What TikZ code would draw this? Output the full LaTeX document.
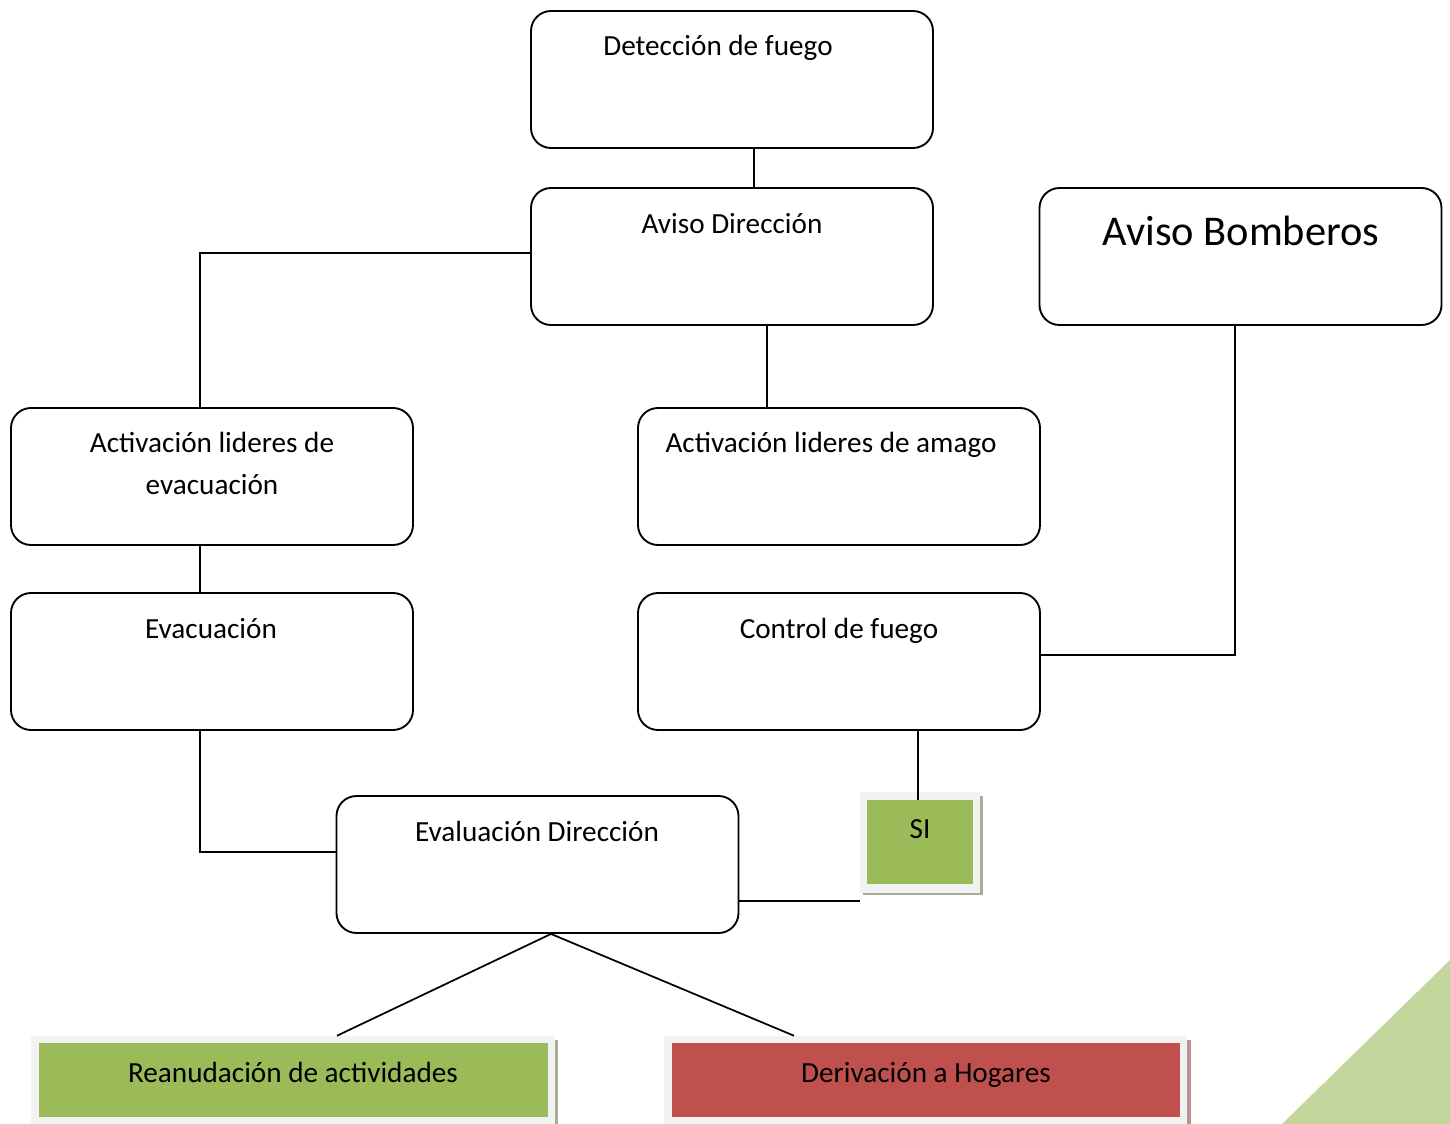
\documentclass[tikz,border=0pt]{standalone}
\usepackage{fontspec}
\setmainfont{Carlito}
\usetikzlibrary{positioning}
\definecolor{verde}{HTML}{9BBB59}
\definecolor{rojo}{HTML}{C0504D}
\definecolor{verdeclaro}{HTML}{C3D69B}
\definecolor{marco}{HTML}{F2F2F2}
\definecolor{sombraverde}{HTML}{A6AE94}
\definecolor{sombraroja}{HTML}{B89494}

\tikzset{
  caja/.style={draw, line width=1.4pt, rounded corners=15pt, minimum width=301.5pt, minimum height=102.75pt},
  txt/.style={anchor=base, font=\fontsize{21.9}{31.5}\selectfont, inner sep=0pt, align=center},
  linea/.style={line width=1.3pt}
}

\begin{document}
\begin{tikzpicture}[x=0.75pt,y=0.75pt,yscale=-1,xscale=1]
    \useasboundingbox (0,0) rectangle (1450,1124);

    %Triangulo de fondo
    \fill[verdeclaro] (1282,1124) -- (1450,960) -- (1450,1124) -- cycle;

    %Cajas redondeadas
    \node[caja] (det) at (732,79.5) {};
    \node[caja] (avdir) at (732,256.5) {};
    \node[caja] (avbom) at (1240.5,256.5) {};
    \node[caja] (actevac) at (212,476.5) {};
    \node[caja] (actamago) at (839,476.5) {};
    \node[caja] (evac) at (212,661.5) {};
    \node[caja] (control) at (839,661.5) {};
    \node[caja] (evaldir) at (537.5,864.5) {};

    %Textos
    \node[txt] (tdet) at (718,56) {Detección de fuego};
    \node[txt] (tavdir) at (732,233) {Aviso Dirección};
    \node[txt, font=\fontsize{31.8}{36}\selectfont] (tavbom) at (1241,245) {Aviso Bomberos};
    \node[txt] (tactevac1) at (212,452) {Activación lideres de};
    \node[txt] (tactevac2) at (212,494) {evacuación};
    \node[txt] (tactamago) at (831,452) {Activación lideres de amago};
    \node[txt] (tevac) at (211,638) {Evacuación};
    \node[txt] (tcontrol) at (839,638) {Control de fuego};
    \node[txt] (tevaldir) at (537,841) {Evaluación Dirección};

    %Caja SI
    \fill[sombraverde] (863,796) rectangle (983,895);
    \node[fill=marco, minimum width=90pt, minimum height=75.75pt, inner sep=0pt] (simarco) at (920,842.5) {};
    \node[fill=verde, minimum width=79.5pt, minimum height=63pt, inner sep=0pt] (si) at (920,842) {};
    \node[txt] (tsi) at (920,838) {SI};

    %Cajas finales
    \fill[sombraverde] (35,1040) rectangle (558,1124);
    \node[fill=marco, minimum width=393pt, minimum height=66pt, inner sep=0pt] (reanmarco) at (293,1080) {};
    \node[fill=verde, minimum width=381.75pt, minimum height=55.5pt, inner sep=0pt] (rean) at (293.5,1080) {};
    \node[txt] (trean) at (293,1082) {Reanudación de actividades};

    \fill[sombraroja] (668,1040) rectangle (1191,1124);
    \node[fill=marco, minimum width=392.25pt, minimum height=66pt, inner sep=0pt] (derivmarco) at (925.5,1080) {};
    \node[fill=rojo, minimum width=381pt, minimum height=55.5pt, inner sep=0pt] (deriv) at (926,1080) {};
    \node[txt] (tderiv) at (926,1082) {Derivación a Hogares};

    %Conectores
    \draw[linea] (det.south -| 754,0) -- (avdir.north -| 754,0);
    \draw[linea] (avdir.west |- 0,253) -| (actevac.north -| 200,0);
    \draw[linea] (avdir.south -| 767,0) -- (actamago.north -| 767,0);
    \draw[linea] (actevac.south -| 200,0) -- (evac.north -| 200,0);
    \draw[linea] (evac.south -| 200,0) |- (evaldir.west |- 0,852);
    \draw[linea] (avbom.south -| 1235,0) |- (control.east |- 0,655);
    \draw[linea] (control.south -| 918,0) -- (si.north -| 918,0);
    \draw[linea] (evaldir.east |- 0,901) -- (simarco.west |- 0,901);
    \coordinate (bif) at (evaldir.south -| 551,0);
    \draw[linea] (bif) -- (reanmarco.north -| 337,0);
    \draw[linea] (bif) -- (derivmarco.north -| 794,0);
\end{tikzpicture}
\end{document}
